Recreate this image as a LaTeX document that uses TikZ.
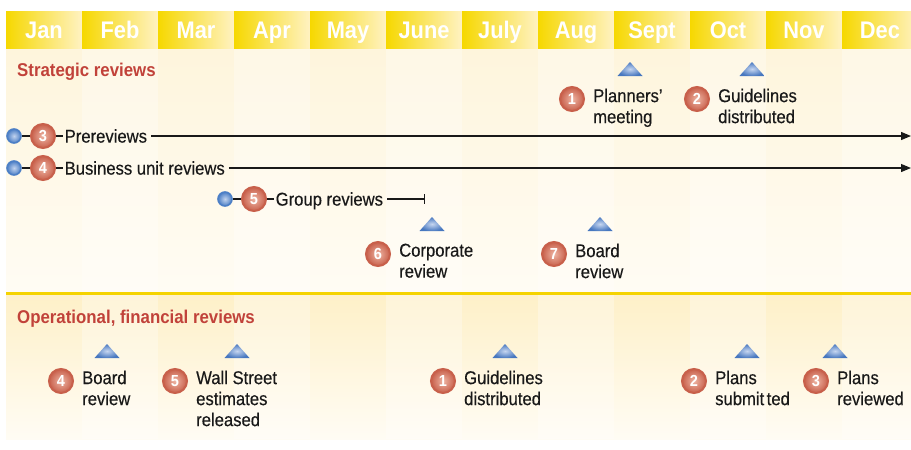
\documentclass[tikz,border=0pt]{standalone}
\usepackage{fontspec}
\setmainfont{Liberation Sans}[FakeStretch=0.91]
\newfontfamily\labelfont{Liberation Sans}[Ligatures=TeX, FakeStretch=0.9, FakeBold=0.3]
\usetikzlibrary{arrows.meta,positioning}
\definecolor{hdryellow}{HTML}{F6D800}
\definecolor{hdrpale}{HTML}{FFF2C2}
\definecolor{bodytop}{HTML}{FEF5DC}
\definecolor{bodybot}{HTML}{FFFCF4}
\definecolor{bodysep}{HTML}{FEF0C8}
\definecolor{sepyellow}{HTML}{F5D300}
\definecolor{titlered}{HTML}{C1423A}
\definecolor{numred}{HTML}{C8604B}
\definecolor{numlight}{HTML}{EEB5A4}
\definecolor{dotblue}{HTML}{4C7FC6}
\definecolor{dotlight}{HTML}{C2D3EE}
\definecolor{triblue}{HTML}{4777BF}
\definecolor{trilight}{HTML}{C6D6F0}
\colorlet{inkblack}{black!90}

\begin{document}
\begin{tikzpicture}[x=1pt,y=-1pt,
    month/.style={anchor=base, inner sep=0, text=white, font=\bfseries\fontsize{24}{24}\selectfont},
    sect/.style={anchor=base west, inner sep=0, text=titlered, font=\bfseries\fontsize{18.5}{20}\selectfont},
    numdot/.style={circle, minimum size=24pt, inner sep=0, draw=numred, line width=2pt,
        inner color=numlight, outer color=numred, text=white, font=\bfseries\fontsize{16}{16}\selectfont},
    bluedot/.style={circle, minimum size=14pt, inner sep=0, draw=dotblue, line width=1.6pt,
        inner color=dotlight, outer color=dotblue},
    rowtext/.style={inner sep=2pt, text height=13.2pt, text depth=0pt, text=inkblack,
        font=\labelfont\fontsize{18.5}{21}\selectfont},
    lbl/.style={align=left, inner sep=0, text=inkblack, font=\labelfont\fontsize{18.5}{21}\selectfont},
    conn/.style={inkblack, line width=1.2pt}]
    \useasboundingbox (0,0) rectangle (911,450);
    \clip (0,0) rectangle (911,450);
    % month columns
    \foreach \m [count=\i from 0] in {Jan,Feb,Mar,Apr,May,June,July,Aug,Sept,Oct,Nov,Dec}{
        \shade[left color=hdryellow, right color=hdrpale] (6+76*\i,11) rectangle (82+76*\i,49);
        \shade[top color=bodytop, bottom color=bodybot] (6+76*\i,49) rectangle (82+76*\i,292);
        \shade[top color=bodysep, bottom color=bodybot] (6+76*\i,295) rectangle (82+76*\i,439);
        \node[month] (m\i) at (44+76*\i,38) {\m};
    }
    \foreach \i in {1,3,...,11}{
        \fill[white, opacity=.3] (6+76*\i,49) rectangle (82+76*\i,439);
    }
    \draw[sepyellow, line width=3pt] (6,293.5) -- (911,293.5);
    \node[sect] (strat) at (17,76) {Strategic reviews};
    \node[sect] (oper) at (17,323) {Operational, financial reviews};
    % running reviews
    \foreach \n/\dx/\y/\txt in {3/14/136/Prereviews, 4/14/168/Business unit reviews, 5/225/199/Group reviews}{
        \node[bluedot] (d\n) at (\dx,\y) {};
        \node[numdot] (r\n) at (\dx+29,\y) {\n};
        \node[rowtext, right=6.5pt of r\n] (t\n) {\txt};
        \draw[conn] (d\n) -- (r\n) -- (t\n);
    }
    \coordinate (e3) at (911,136);
    \coordinate (e4) at (911,168);
    \coordinate (e5) at (425,199);
    \draw[conn, -{Triangle[length=10pt,width=8pt]}, shorten <=2pt] (t3) -- (e3);
    \draw[conn, -{Triangle[length=10pt,width=8pt]}, shorten <=2pt] (t4) -- (e4);
    \draw[conn, -{Bar[width=10pt]}, shorten <=2pt] (t5) -- (e5);
    % milestones
    \foreach \n/\num/\cx/\cy/\tx/\txt in {
        s1/1/572/99/630/{Planners'\\meeting},
        s2/2/697/99/752/{Guidelines\\distributed},
        s6/6/378/254/432/{Corporate\\review},
        s7/7/554/254/600/{Board\\review},
        o4/4/61/381/107/{Board\\review},
        o5/5/175/381/237/{Wall Street\\estimates\\released},
        o1/1/443/381/505/{Guidelines\\distributed},
        o2/2/694/381/747/{Plans\\submit\hspace{2.5pt}ted},
        o3/3/816/381/835/{Plans\\reviewed}}{
        \shade[inner color=trilight, outer color=triblue] (\tx-12.5,\cy-23) -- (\tx+12.5,\cy-23) -- (\tx,\cy-37) -- cycle;
        \node[numdot] (\n) at (\cx,\cy) {\num};
        \node[lbl, anchor=north west] (l\n) at ([xshift=21pt,yshift=10.5pt]\n.center) {\txt};
    }
\end{tikzpicture}
\end{document}
